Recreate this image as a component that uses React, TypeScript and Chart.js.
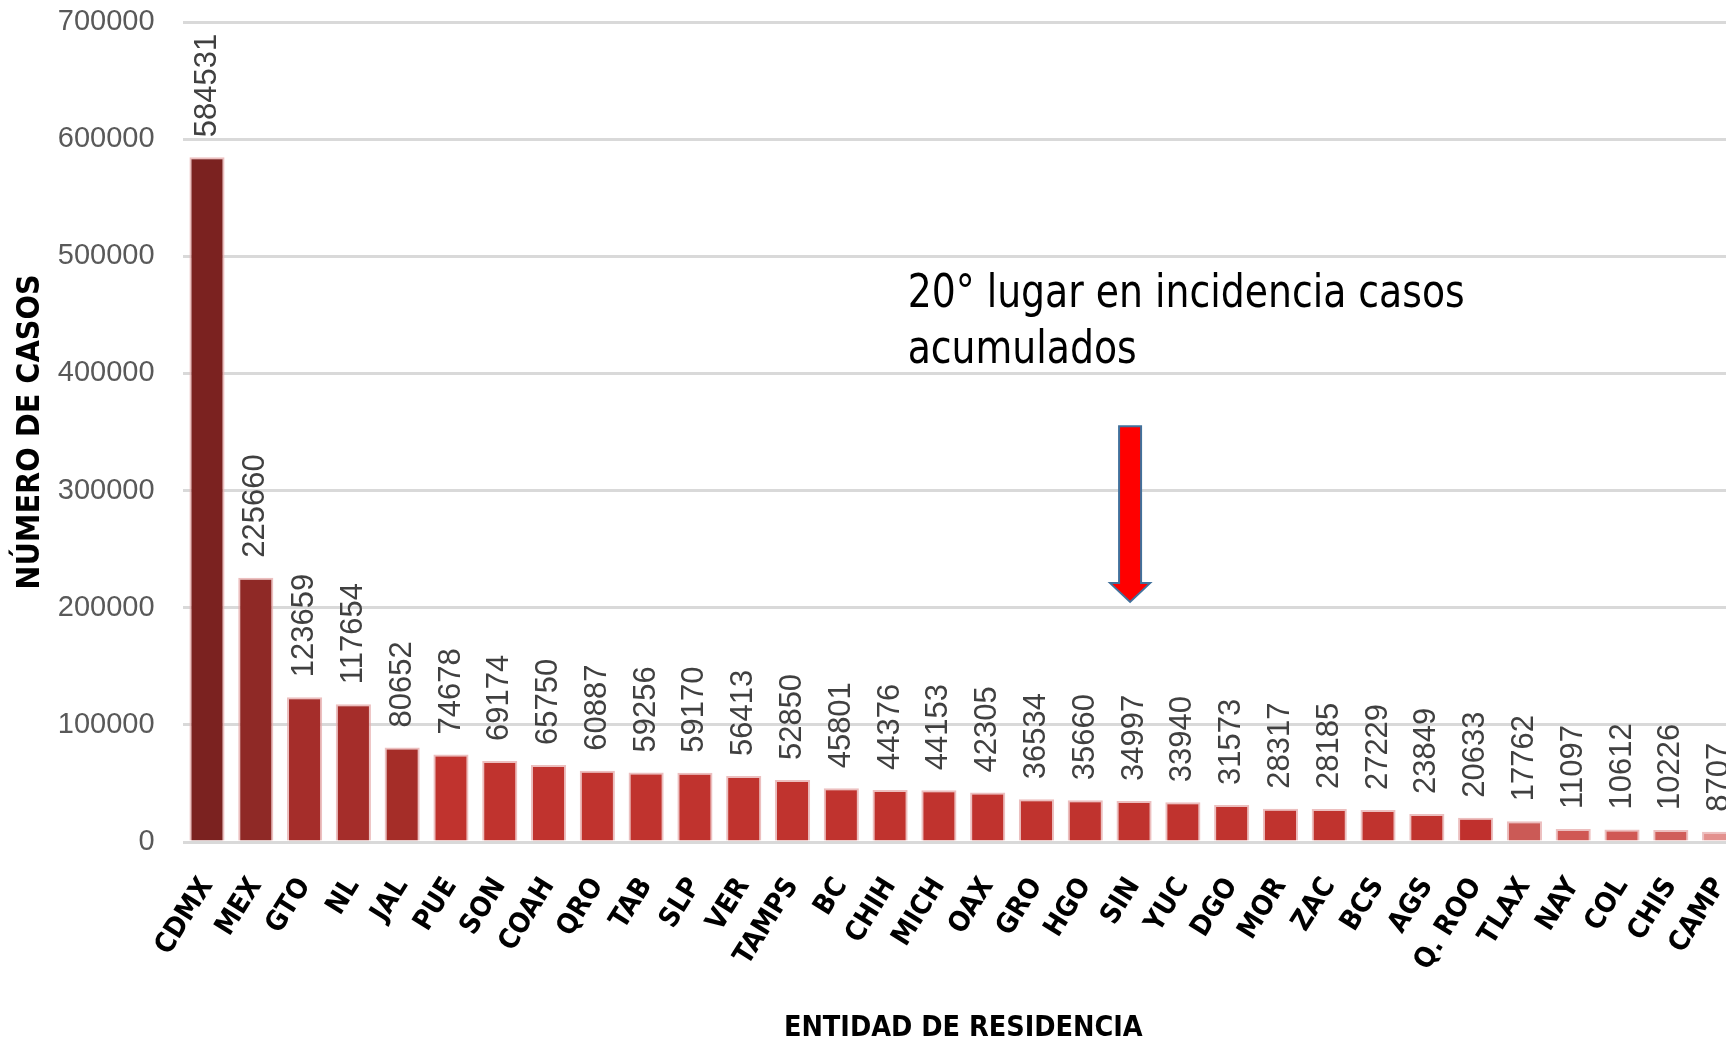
import React, { useEffect, useRef } from 'react';
import { Chart, registerables } from 'chart.js';

Chart.register(...registerables);

// ---- data ----
const categories = [
  'CDMX', 'MEX', 'GTO', 'NL', 'JAL', 'PUE', 'SON', 'COAH', 'QRO', 'TAB', 'SLP', 'VER',
  'TAMPS', 'BC', 'CHIH', 'MICH', 'OAX', 'GRO', 'HGO', 'SIN', 'YUC', 'DGO', 'MOR', 'ZAC',
  'BCS', 'AGS', 'Q. ROO', 'TLAX', 'NAY', 'COL', 'CHIS', 'CAMP',
];
const casos = [
  584531, 225660, 123659, 117654, 80652, 74678, 69174, 65750, 60887, 59256, 59170, 56413,
  52850, 45801, 44376, 44153, 42305, 36534, 35660, 34997, 33940, 31573, 28317, 28185,
  27229, 23849, 20633, 17762, 11097, 10612, 10226, 8707,
];
const yMin = 0;
const yMax = 700000;
const yStep = 100000;

const xAxisTitle = 'ENTIDAD DE RESIDENCIA';
const yAxisTitle = 'NÚMERO DE CASOS';

const annotationLines = ['20° lugar en incidencia casos', 'acumulados'];
const highlightIndex = 19; // SIN
const arrowTopValue = 355000;
const arrowHeadValue = 221000;
const arrowTipValue = 205000;
const annotationXIndex = 14.36;
const annotationBaselineValues = [457000, 409000];

// ---- styles ----
const barColors = [
  '#7B2220', '#8F2926', '#A52D2A', '#A52D2A', '#A52D28',
  '#C0332E', '#C0332E', '#C0332E', '#C0332E', '#C0332E', '#C0332E', '#C0332E',
  '#C0332E', '#C0332E', '#C0332E', '#C0332E', '#C0332E', '#C0332E', '#C0332E', '#C0332E',
  '#C0332E', '#C0332E', '#C0332E', '#C0332E', '#C0332E', '#C0332E', '#C0302D',
  '#CB5A56', '#D05854', '#D05854', '#D05E5A', '#E3918E',
];
const barBorderColors = barColors.map(() => 'rgba(230, 170, 170, 0.75)');

const COND = '"DejaVu Sans Condensed", "Liberation Sans", sans-serif';
const SANS = '"Liberation Sans", Arial, sans-serif';

const valueLabelPlugin = {
  id: 'valueLabels',
  afterDatasetsDraw(chart: any) {
    const { ctx } = chart;
    const meta = chart.getDatasetMeta(0);
    ctx.save();
    ctx.font = `31px ${SANS}`;
    ctx.fillStyle = '#404040';
    ctx.textAlign = 'left';
    ctx.textBaseline = 'middle';
    meta.data.forEach((bar: any, i: number) => {
      ctx.save();
      ctx.translate(bar.x, bar.y - 20);
      ctx.rotate(-Math.PI / 2);
      ctx.fillText(String(casos[i]), 0, 0);
      ctx.restore();
    });
    ctx.restore();
  },
};

const annotationPlugin = {
  id: 'arrowAnnotation',
  afterDraw(chart: any) {
    const { ctx } = chart;
    const xs = chart.scales.x;
    const ys = chart.scales.y;
    const step = xs.getPixelForValue(1) - xs.getPixelForValue(0);
    const cx = xs.getPixelForValue(highlightIndex) - 4;
    const yTop = ys.getPixelForValue(arrowTopValue);
    const yHead = ys.getPixelForValue(arrowHeadValue);
    const yTip = ys.getPixelForValue(arrowTipValue);
    const shaft = 11;
    const head = 20;
    ctx.save();
    ctx.beginPath();
    ctx.moveTo(cx - shaft, yTop);
    ctx.lineTo(cx + shaft, yTop);
    ctx.lineTo(cx + shaft, yHead);
    ctx.lineTo(cx + head, yHead);
    ctx.lineTo(cx, yTip);
    ctx.lineTo(cx - head, yHead);
    ctx.lineTo(cx - shaft, yHead);
    ctx.closePath();
    ctx.fillStyle = '#FF0000';
    ctx.fill();
    ctx.lineWidth = 2;
    ctx.strokeStyle = '#41719C';
    ctx.stroke();

    const tx = xs.getPixelForValue(0) + annotationXIndex * step;
    ctx.font = `42px ${COND}`;
    ctx.fillStyle = '#000000';
    ctx.textAlign = 'left';
    ctx.textBaseline = 'alphabetic';
    annotationLines.forEach((line, i) => {
      const by = ys.getPixelForValue(annotationBaselineValues[i]);
      ctx.save();
      ctx.translate(tx, by);
      ctx.scale(1, 1.12);
      ctx.fillText(line, 0, 0);
      ctx.restore();
    });
    ctx.restore();
  },
};

export default function App() {
  const canvasRef = useRef<HTMLCanvasElement | null>(null);

  useEffect(() => {
    if (!canvasRef.current) return;
    const chart = new Chart(canvasRef.current, {
      type: 'bar',
      data: {
        labels: categories,
        datasets: [
          {
            data: casos,
            backgroundColor: barColors,
            borderColor: barBorderColors,
            borderWidth: { left: 2, right: 2, top: 2, bottom: 0 },
            borderSkipped: false,
            barPercentage: 0.72,
            categoryPercentage: 1,
          },
        ],
      },
      options: {
        animation: false,
        responsive: false,
        devicePixelRatio: 1,
        layout: { padding: { left: 0, top: 22, right: 0, bottom: 0 } },
        plugins: {
          legend: { display: false },
          tooltip: { enabled: false },
        },
        scales: {
          x: {
            grid: { display: false },
            border: { display: false },
            ticks: {
              autoSkip: false,
              maxRotation: 58,
              minRotation: 58,
              color: '#000000',
              padding: 22,
              font: { family: COND, size: 28, weight: 'bold' },
            },
            title: {
              display: true,
              text: xAxisTitle,
              color: '#000000',
              font: { family: COND, size: 28.5, weight: 'bold' },
              padding: { top: 0, bottom: 2 },
            },
            afterFit: (s: any) => {
              s.height = 206;
              s.paddingLeft = 0;
              s.paddingRight = 0;
            },
          },
          y: {
            min: yMin,
            max: yMax,
            grid: { color: '#D9D9D9', lineWidth: 3, drawTicks: false },
            border: { display: false },
            ticks: {
              stepSize: yStep,
              color: '#595959',
              padding: 28,
              font: { family: SANS, size: 29 },
              callback: (v: any) => String(v),
            },
            title: {
              display: true,
              text: yAxisTitle,
              color: '#000000',
              font: { family: COND, size: 32, weight: 'bold' },
              padding: { top: 11, bottom: 0 },
            },
            afterFit: (s: any) => {
              s.width = 182.6;
              s.paddingTop = 0;
              s.paddingBottom = 0;
            },
          },
        },
      },
      plugins: [valueLabelPlugin, annotationPlugin],
    } as any);
    return () => chart.destroy();
  }, []);

  return (
    <div
      style={{
        position: 'fixed',
        left: 0,
        top: 0,
        width: 1726,
        height: 1048,
        overflow: 'hidden',
        background: '#ffffff',
      }}
    >
      <canvas ref={canvasRef} width={1744} height={1048} style={{ display: 'block' }} />
    </div>
  );
}
